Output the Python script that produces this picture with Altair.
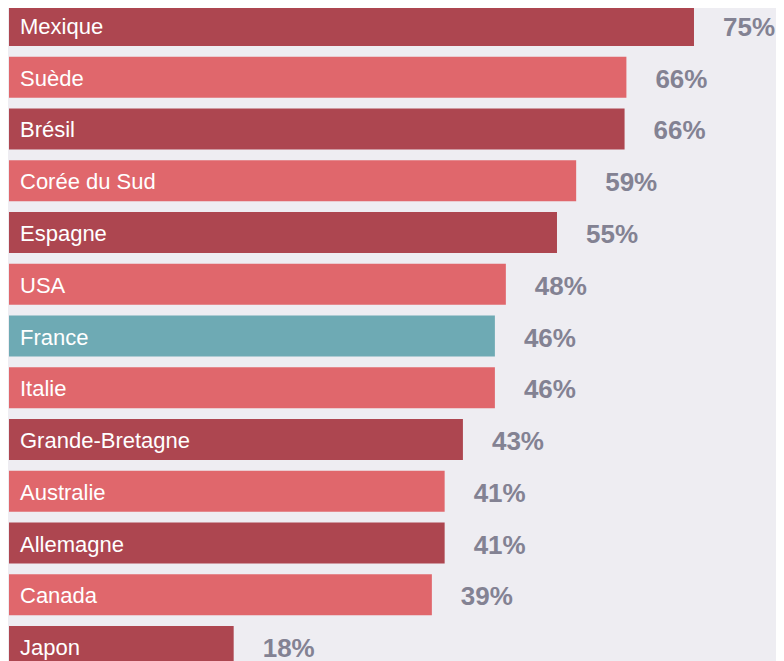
import altair as alt
import pandas as pd

countries = ["Mexique", "Suède", "Brésil", "Corée du Sud", "Espagne", "USA", "France",
             "Italie", "Grande-Bretagne", "Australie", "Allemagne", "Canada", "Japon"]
pct_labels = [75, 66, 66, 59, 55, 48, 46, 46, 43, 41, 41, 39, 18]
bar_lengths = [75, 67.6, 67.4, 62.1, 60.0, 54.4, 53.2, 53.2, 49.7, 47.7, 47.7, 46.3, 24.6]
groups = ["dark", "light", "dark", "light", "dark", "light", "france",
          "light", "dark", "light", "dark", "light", "dark"]

df = pd.DataFrame({
    "pays": countries,
    "pct": pct_labels,
    "len": bar_lengths,
    "grp": groups,
})
df["txt"] = df["pct"].astype(str) + "%"

W, H = 768, 662
xscale = alt.Scale(domain=[-0.11, 83.98], nice=False, zero=False)
yscale = alt.Scale(paddingInner=0.21, paddingOuter=0, range=[-3, H - 3])
yenc = alt.Y("pays:N", sort=countries, scale=yscale, axis=None)

base = alt.Chart(df)

bars = base.mark_bar(cornerRadius=0).encode(
    x=alt.X("len:Q", scale=xscale, axis=None),
    x2=alt.datum(0),
    y=yenc,
    color=alt.Color("grp:N", legend=None,
                    scale=alt.Scale(domain=["dark", "light", "france"],
                                    range=["#ad4650", "#e0676c", "#6eaab4"])),
)

names = base.mark_text(align="left", baseline="middle", dy=1.5,
                       font="Liberation Sans", fontSize=22, color="#ffffff").encode(
    x=alt.value(12),
    y=yenc,
    text="pays:N",
)

values = base.mark_text(align="left", baseline="middle", dx=29, dy=2.5,
                        font="Liberation Sans", fontSize=26, fontWeight="bold",
                        color="#838293").encode(
    x=alt.X("len:Q", scale=xscale, axis=None),
    y=yenc,
    text="txt:N",
)

chart = alt.layer(bars, names, values).properties(
    width=W, height=H, background="#eeedf2", padding=0,
    autosize=alt.AutoSizeParams(type="none")
).configure_view(stroke=None, fill="#eeedf2")

chart.save("out.html", embed_options={"renderer": "svg", "actions": False})
